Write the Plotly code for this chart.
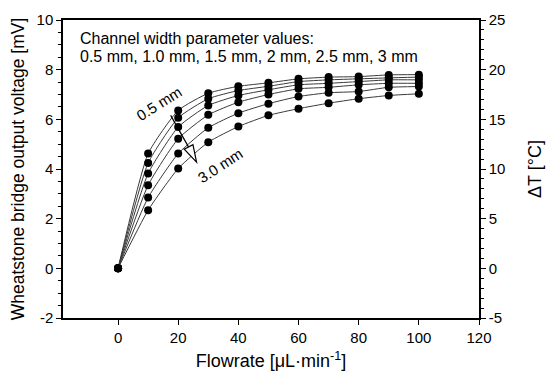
import plotly.graph_objects as go

flowrate = [0, 10, 20, 30, 40, 50, 60, 70, 80, 90, 100]
width_labels = ["0.5 mm", "1.0 mm", "1.5 mm", "2 mm", "2.5 mm", "3 mm"]
v_05 = [0, 4.62, 6.36, 7.05, 7.33, 7.47, 7.63, 7.70, 7.72, 7.79, 7.80]
v_10 = [0, 4.24, 6.06, 6.83, 7.16, 7.33, 7.52, 7.59, 7.63, 7.67, 7.70]
v_15 = [0, 3.82, 5.69, 6.56, 6.96, 7.19, 7.39, 7.45, 7.52, 7.59, 7.59]
v_20 = [0, 3.35, 5.22, 6.18, 6.69, 7.00, 7.23, 7.29, 7.39, 7.45, 7.45]
v_25 = [0, 2.85, 4.62, 5.66, 6.25, 6.63, 6.92, 7.07, 7.12, 7.29, 7.32]
v_30 = [0, 2.34, 4.02, 5.08, 5.71, 6.16, 6.43, 6.65, 6.83, 6.96, 7.03]
series = [v_05, v_10, v_15, v_20, v_25, v_30]

x_ticks = [0, 20, 40, 60, 80, 100, 120]
y_ticks = [-2, 0, 2, 4, 6, 8, 10]
y2_ticks = [-5, 0, 5, 10, 15, 20, 25]

FONT = "Liberation Sans, Arial, sans-serif"
fig = go.Figure()
for name, vals in zip(width_labels, series):
    fig.add_trace(go.Scatter(
        x=flowrate, y=vals, mode="lines+markers", name=name,
        line=dict(color="#3a3a3a", width=1, shape="spline", smoothing=0.5),
        marker=dict(color="black", size=8), showlegend=False))
fig.add_trace(go.Scatter(x=[None], y=[None], yaxis="y2", showlegend=False))

axis_common = dict(showline=True, linecolor="black", linewidth=1.5, ticks="outside",
                   ticklen=5, tickcolor="black", showgrid=False, zeroline=False,
                   automargin=False,
                   tickfont=dict(size=15, color="black", family=FONT))

fig.update_layout(
    width=550, height=388,
    margin=dict(l=63, r=71, t=20, b=70),
    plot_bgcolor="white", paper_bgcolor="white",
    font=dict(family=FONT, color="black"),
    xaxis=dict(range=[-18.3, 120], tickvals=x_ticks, ticktext=[str(v) for v in x_ticks], mirror=True,
               title=dict(text="Flowrate [μL·min<sup>-1</sup>]", font=dict(size=18), standoff=10),
               **axis_common),
    yaxis=dict(range=[-2, 10], tickvals=y_ticks, ticktext=[str(v) for v in y_ticks], mirror=False,
               minor=dict(dtick=0.5, ticks="outside", ticklen=3, tickcolor="black"),
               title=dict(text="Wheatstone bridge output voltage [mV]", font=dict(size=17.5), standoff=7),
               **axis_common),
    yaxis2=dict(range=[-5, 25], tickvals=y2_ticks, ticktext=[str(v) for v in y2_ticks],
                overlaying="y", side="right",
                minor=dict(dtick=1, ticks="outside", ticklen=3, tickcolor="black"),
                title=dict(text="ΔT [°C]", font=dict(size=18), standoff=24),
                **axis_common),
)

plot_w = 550 - 63 - 71
plot_h = 388 - 20 - 70
fig.add_annotation(x=(78 - 63) / plot_w, y=1 - (38 - 20) / plot_h, xref="paper", yref="paper",
                   xanchor="left", yanchor="middle", showarrow=False,
                   text="Channel width parameter values:", font=dict(size=16, color="black"))
fig.add_annotation(x=(78 - 63) / plot_w, y=1 - (56 - 20) / plot_h, xref="paper", yref="paper",
                   xanchor="left", yanchor="middle", showarrow=False,
                   text="0.5 mm, 1.0 mm, 1.5 mm, 2 mm, 2.5 mm, 3 mm", font=dict(size=16, color="black"))
fig.add_annotation(x=13.6, y=6.64, text="0.5 mm", showarrow=False, textangle=-32,
                   font=dict(size=15, color="black"))
fig.add_annotation(x=33.9, y=4.15, text="3.0 mm", showarrow=False, textangle=-33,
                   font=dict(size=15, color="black"))
fig.add_shape(type="line", x0=17.5, y0=6.16, x1=23.6, y1=4.85, xref="x", yref="y",
              line=dict(color="black", width=1.2))
fig.add_shape(type="path", path="M 26.1 4.28 L 22.0 4.80 L 24.9 4.98 Z", xref="x", yref="y",
              line=dict(color="black", width=1.2), fillcolor="white")

fig.write_html("out.html", config={"displayModeBar": False},
               post_script="document.body.style.margin='0';")
